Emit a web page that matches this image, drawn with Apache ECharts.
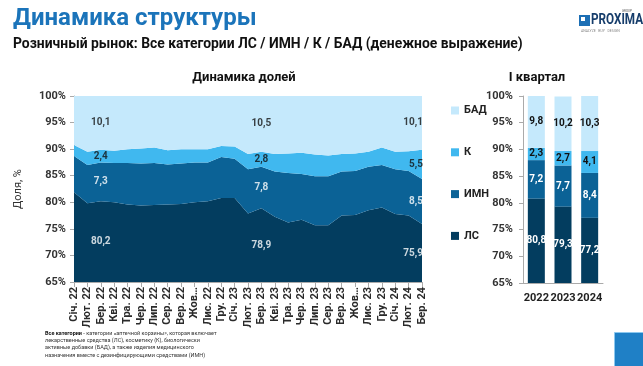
<!DOCTYPE html>
<html><head><meta charset="utf-8">
<script src="https://cdn.jsdelivr.net/npm/echarts@6/dist/echarts.min.js"></script>
<style>html,body{margin:0;padding:0;background:#fff}#c{width:643px;height:366px}</style>
</head><body><div id="c"></div>
<script>
const months = ['Січ. 22','Лют. 22','Бер. 22','Кві. 22','Тра. 22','Чер. 22','Лип. 22','Сер. 22','Вер. 22','Жов…','Лис. 22','Гру. 22','Січ. 23','Лют. 23','Бер. 23','Кві. 23','Тра. 23','Чер. 23','Лип. 23','Сер. 23','Вер. 23','Жов…','Лис. 23','Гру. 23','Січ. 24','Лют. 24','Бер. 24'];
const ls  = [81.9,79.8,80.2,80.0,79.6,79.4,79.5,79.6,79.7,80.0,80.2,80.8,80.8,77.9,78.9,77.3,76.2,76.7,75.7,75.7,77.5,77.6,78.5,79.0,77.8,77.5,75.9];
const imn = [6.8,7.2,7.3,7.4,7.8,7.9,7.9,7.5,7.6,7.5,7.3,7.7,7.4,8.3,7.8,8.5,9.3,8.6,9.2,9.2,8.3,8.3,8.2,8.0,8.4,8.4,8.5];
const k   = [2.1,2.5,2.4,2.3,2.6,2.8,2.9,2.7,2.7,2.5,2.5,2.1,2.3,2.9,2.8,3.3,3.7,4.0,4.1,3.9,3.3,3.3,2.8,3.3,3.3,3.7,5.5];
const bad = [9.2,10.5,10.1,10.3,10.0,9.9,9.7,10.2,10.0,10.0,10.0,9.4,9.5,10.9,10.5,10.9,10.8,10.7,11.0,11.2,10.9,10.8,10.5,9.7,10.5,10.4,10.1];
const labelIdx = [2,14,26];

const years = ['2022','2023','2024'];
const qLs  = [80.8,79.3,77.2];
const qImn = [7.2,7.7,8.4];
const qK   = [2.3,2.7,4.1];
const qBad = [9.8,10.2,10.3];

const yTicks = [65,70,75,80,85,90,95,100];

const C = {ls:'#033d5f', imn:'#0b6296', k:'#40b8ef', bad:'#c5e9fc'};
const FONT = 'Roboto';
const fmt = v => String(v).replace('.', ',');

// label points at band middles (drawn through the axis scale)
const labelPts = [];
labelIdx.forEach(i => {
  const b1 = ls[i], b2 = b1 + imn[i], b3 = b2 + k[i];
  const last = i === months.length - 1;
  labelPts.push({value:[i,(65+b1)/2], txt:fmt(ls[i]), c:'#fff', last});
  labelPts.push({value:[i,(b1+b2)/2], txt:fmt(imn[i]), c:'#fff', last});
  labelPts.push({value:[i,(b2+b3)/2], txt:fmt(k[i]), c:'#111', last});
  labelPts.push({value:[i,(b3+100)/2], txt:fmt(bad[i]), c:'#111', last});
});

function areaSeries(name, data, color){
  return {name, type:'line', stack:'s', data, xAxisIndex:0, yAxisIndex:0,
    showSymbol:false, symbol:'none', lineStyle:{width:0}, areaStyle:{color, opacity:1},
    itemStyle:{color}, emphasis:{disabled:true}, z:2};
}
function barSeries(name, data, color, lc){
  return {name, type:'bar', stack:'q', data, xAxisIndex:1, yAxisIndex:1, barWidth:17,
    itemStyle:{color}, label:{show:true, position:'inside', color:lc, fontFamily:FONT, fontWeight:'bold', fontSize:10, formatter:p=>fmt(p.value)}};
}

const yLab = {color:'#333', fontFamily:FONT, fontWeight:'bold', fontSize:11, formatter:'{value}%'};

const chart = echarts.init(document.getElementById('c'), null, {renderer:'canvas'});
chart.setOption({
  animation:false,
  textStyle:{fontFamily:FONT},
  title:[
    {text:'Динамика долей', left:239, top:66, textAlign:'center', textStyle:{fontFamily:FONT, fontWeight:'bold', fontSize:13, color:'#111'}},
    {text:'I квартал', left:532, top:66, textAlign:'center', textStyle:{fontFamily:FONT, fontWeight:'bold', fontSize:13, color:'#111'}}
  ],
  legend:{data:['БАД','К','ИМН','ЛС'], orient:'vertical', left:446, top:100, itemGap:30.8, itemWidth:8, itemHeight:8, icon:'rect',
    textStyle:{fontFamily:FONT, fontWeight:'bold', fontSize:11, color:'#222'}, selectedMode:false},
  grid:[
    {left:74, right:221, top:96, bottom:84},
    {left:523, right:40, top:96, bottom:83}
  ],
  xAxis:[
    {type:'category', gridIndex:0, data:months, boundaryGap:false,
      axisLine:{lineStyle:{color:'#aaa'}}, axisTick:{show:true, lineStyle:{color:'#aaa'}},
      axisLabel:{interval:0, rotate:90, color:'#2a2a2a', fontFamily:FONT, fontWeight:'bold', fontSize:11, margin:5}},
    {type:'category', gridIndex:1, data:years,
      axisLine:{lineStyle:{color:'#aaa'}}, axisTick:{show:false},
      axisLabel:{interval:0, color:'#222', fontFamily:FONT, fontWeight:'bold', fontSize:11, margin:10}}
  ],
  yAxis:[
    {type:'value', gridIndex:0, min:yTicks[0], max:yTicks[yTicks.length-1], interval:5,
      name:'Доля, %', nameLocation:'middle', nameGap:50, nameRotate:90,
      nameTextStyle:{color:'#333', fontFamily:FONT, fontSize:11},
      axisLine:{show:true, lineStyle:{color:'#aaa'}}, axisTick:{show:true, length:4, lineStyle:{color:'#aaa'}},
      splitLine:{show:false}, axisLabel:Object.assign({margin:8}, yLab)},
    {type:'value', gridIndex:1, min:yTicks[0], max:yTicks[yTicks.length-1], interval:5,
      axisLine:{show:true, lineStyle:{color:'#aaa'}}, axisTick:{show:true, length:4, lineStyle:{color:'#aaa'}},
      splitLine:{show:false}, axisLabel:Object.assign({margin:10}, yLab)}
  ],
  series:[
    areaSeries('ЛС', ls, C.ls),
    areaSeries('ИМН', imn, C.imn),
    areaSeries('К', k, C.k),
    areaSeries('БАД', bad, C.bad),
    {type:'scatter', xAxisIndex:0, yAxisIndex:0, symbolSize:0, z:5, silent:true, clip:false,
      data:labelPts.map(p=>({value:p.value, label:{color:p.c, formatter:p.txt, align:p.last?'right':'center', offset:p.last?[1,0]:[0,0]}})),
      label:{show:true, position:'inside', fontFamily:FONT, fontWeight:'bold', fontSize:10}},
    barSeries('ЛС', qLs, C.ls, '#fff'),
    barSeries('ИМН', qImn, C.imn, '#fff'),
    barSeries('К', qK, C.k, '#111'),
    barSeries('БАД', qBad, C.bad, '#111')
  ],
  graphic:[
    {type:'text', left:13, top:7, style:{text:'Динамика структуры', fontFamily:FONT, fontWeight:'bold', fontSize:24, fill:'#1b74ba'}},
    {type:'text', left:13, top:38, style:{text:'Розничный рынок: Все категории ЛС / ИМН / К / БАД (денежное выражение)', fontFamily:FONT, fontWeight:'bold', fontSize:13.9, fill:'#111'}},
    {type:'rect', left:579, top:15, shape:{width:11, height:11}, style:{fill:'#1c6fb5'}},
    {type:'rect', left:581, top:17, shape:{width:4, height:4}, style:{fill:'#fff'}},
    {type:'text', x:591, y:13, scaleX:0.78, style:{text:'PROXIMA', fontFamily:FONT, fontWeight:'bold', fontSize:15, fill:'#163d6b'}},
    {type:'text', left:622, top:10, style:{text:'GROUP', fontFamily:FONT, fontSize:3, fill:'#555'}},
    {type:'text', left:581, top:29, style:{text:'ANALYZE   BUY   DESIGN', fontFamily:FONT, fontSize:3.5, fill:'#888'}},
    {type:'rect', left:614, top:332, shape:{width:29, height:34}, style:{fill:'#1f80c6', stroke:'#8cc8ef', lineWidth:1}},
    {type:'text', left:45, top:330, style:{
      text:'{b|Все категории} - категории «аптечной корзины», которая включает\nлекарственные средства (ЛС), косметику (К), биологически\nактивные добавки (БАД), а также изделия медицинского\nназначения вместе с дезинфицирующими средствами (ИМН)',
      fontFamily:FONT, fontSize:5.5, lineHeight:7.2, fill:'#333',
      rich:{b:{fontFamily:FONT, fontSize:5.5, fontWeight:'bold', fill:'#111', lineHeight:7.2}}}}
  ]
});
</script></body></html>
